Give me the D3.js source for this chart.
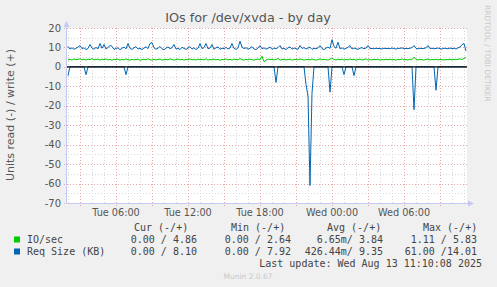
<!DOCTYPE html>
<html>
<head>
<meta charset="utf-8">
<script src="https://cdn.jsdelivr.net/npm/d3@7"></script>
<style>
  body { margin: 0; background: #f0f0f0; }
  svg { display: block; }
</style>
</head>
<body>
<svg id="chart"></svg>
<script>
// 10 minute samples, Tue Aug 12 01:55 UTC -> Wed Aug 13 11:15 UTC
const startTime = Date.UTC(2025, 7, 12, 1, 55)
const stepMin = 10

// Req Size (KB), write (+)
const reqWrite = [
  10.5, 9.2, 9.8, 9.0, 9.6, 10.2, 11.0, 9.4, 9.8, 8.9, 9.5, 11.5, 9.7, 9.1, 10.0, 9.3, 12.0, 9.6, 11.5, 9.2,
  10.0, 11.0, 10.6, 9.0, 9.5, 9.8, 8.8, 9.6, 10.2, 9.3, 12.0, 9.5, 9.0, 9.8, 10.4, 9.2, 9.6, 8.9, 9.7, 10.3,
  9.4, 12.0, 12.5, 9.8, 9.1, 9.6, 10.5, 9.3, 8.8, 9.7, 10.2, 9.4, 9.9, 11.5, 9.2, 9.6, 8.9, 10.1, 9.5, 9.0,
  9.7, 10.4, 9.2, 9.8, 8.9, 9.6, 12.0, 9.4, 9.9, 12.0, 9.3, 9.7, 11.5, 9.1, 9.8, 10.3, 9.0, 9.6, 9.4, 10.0,
  9.2, 9.7, 12.0, 9.5, 9.0, 9.8, 13.2, 10.2, 9.4, 9.9, 9.1, 9.6, 10.4, 9.2, 8.9, 9.7, 11.0, 9.3, 9.8, 9.1,
  9.6, 10.2, 9.0, 9.7, 9.4, 9.9, 11.0, 9.2, 9.6, 8.9, 9.8, 10.3, 9.1, 9.7, 9.4, 9.0, 11.0, 9.5, 9.9, 9.2,
  9.7, 10.1, 9.0, 9.6, 9.3, 9.8, 11.0, 9.4, 8.9, 9.7, 10.2, 9.5, 14.0, 10.5, 9.6, 12.7, 9.3, 9.8, 9.1, 9.6,
  10.0, 11.0, 9.2, 9.7, 9.4, 9.0, 9.6, 9.9, 9.3, 9.7, 11.0, 9.4, 9.5, 9.3, 9.6, 9.4, 9.5, 9.2, 9.6, 9.4,
  9.5, 9.3, 9.7, 9.4, 9.2, 9.6, 9.5, 9.8, 9.3, 9.5, 9.4, 9.6, 9.9, 11.0, 9.5, 9.3, 9.6, 9.4, 9.5, 9.8,
  11.0, 9.4, 9.6, 9.3, 9.5, 9.7, 9.4, 9.2, 9.6, 9.5, 9.3, 9.7, 9.4, 9.6, 9.2, 9.8, 10.2, 11.5, 12.0, 8.1
]

// Req Size (KB), read (-), drawn below zero
const reqRead = [
  4.5, 0, 0, 0, 0, 0, 0, 0, 0, 4, 0, 0, 0, 0, 0, 0, 0, 0, 0, 0,
  0, 0, 0, 0, 0, 0, 0, 0, 0, 4, 0, 0, 0, 0, 0, 0, 0, 0, 0, 0,
  0, 0, 0, 0, 0, 0, 0, 0, 0, 0, 0, 0, 0, 0, 0, 0, 0, 0, 0, 0,
  0, 0, 0, 0, 0, 0, 0, 0, 0, 0, 0, 0, 0, 0, 0, 0, 0, 0, 0, 0,
  0, 0, 0, 0, 0, 0, 0, 0, 0, 0, 0, 0, 0, 0, 0, 0, 0, 0, 0, 0,
  0, 0, 0, 0, 8, 0, 0, 0, 0, 0, 0, 0, 0, 0, 0, 0, 0, 0, 0, 9,
  15, 61, 13.5, 0, 0, 0, 0, 0, 0, 0, 0, 13, 0, 0, 0, 0, 0, 0, 4, 0,
  0, 0, 0, 4.5, 0, 0, 0, 0, 0, 0, 0, 0, 0, 0, 0, 0, 0, 0, 0, 0,
  0, 0, 0, 0, 0, 0, 0, 0, 0, 0, 0, 0, 0, 22, 0, 0, 0, 0, 0, 0,
  0, 0, 0, 0, 12, 0, 0, 0, 0, 0, 0, 0, 0, 0, 0, 0, 0, 0, 0, 0
]

// IO/sec, write (+)
const ioWrite = [
  3.6, 3.9, 3.5, 4.1, 3.7, 3.8, 4.2, 3.6, 3.9, 3.5, 4.0, 3.7, 4.3, 3.6, 3.8, 4.0, 3.5, 3.9, 3.7, 4.1,
  3.6, 3.8, 3.4, 3.9, 3.7, 4.0, 3.5, 3.8, 3.6, 4.1, 3.7, 3.5, 3.9, 3.6, 3.8, 4.0, 3.4, 3.7, 3.9, 3.6,
  4.2, 3.7, 3.5, 3.9, 3.6, 3.8, 4.0, 3.5, 3.7, 3.9, 3.6, 4.1, 3.8, 3.5, 3.7, 4.0, 3.6, 3.9, 3.5, 3.8,
  3.7, 4.1, 3.6, 3.8, 3.5, 4.0, 3.7, 3.9, 3.6, 4.2, 3.5, 3.8, 3.7, 4.0, 3.6, 3.9, 3.4, 3.8, 3.7, 4.1,
  3.6, 3.9, 3.5, 4.0, 3.8, 3.6, 4.3, 3.7, 3.5, 3.9, 3.6, 4.0, 3.7, 3.5, 3.8, 4.1, 3.6, 5.5, 2.7, 3.5,
  4.0, 3.7, 3.9, 3.6, 3.8, 4.4, 3.5, 3.7, 3.9, 3.6, 3.8, 4.0, 3.5, 3.7, 3.9, 3.6, 4.1, 3.8, 3.5, 3.7,
  3.9, 3.6, 4.0, 3.7, 3.5, 3.8, 4.1, 3.6, 3.9, 3.7, 3.5, 4.0, 4.6, 3.8, 3.6, 3.9, 3.7, 4.0, 3.5, 3.8,
  3.6, 4.1, 3.7, 3.9, 3.5, 3.8, 4.0, 3.6, 3.7, 4.2, 3.5, 3.8, 3.6, 3.9, 3.7, 4.0, 3.5, 3.8, 3.6, 3.9,
  3.7, 4.0, 3.6, 3.8, 3.5, 3.9, 3.7, 4.1, 3.6, 3.8, 3.5, 4.0, 3.7, 5.0, 3.8, 3.6, 3.9, 3.7, 3.5, 3.8,
  4.0, 3.6, 3.8, 3.7, 3.9, 3.6, 3.8, 3.7, 3.6, 3.8, 3.7, 3.9, 3.6, 3.8, 3.7, 3.9, 4.2, 3.8, 4.3, 4.9
]

const yTicks = [20, 10, 0, -10, -20, -30, -40, -50, -60, -70]

const legendHeaders = ['Cur (-/+)', 'Min (-/+)', 'Avg (-/+)', 'Max (-/+)']
const legendRows = [
  {name: 'IO/sec', color: '#00cc00', values: ['0.00 / 4.86', '0.00 / 2.64', '6.65m/ 3.84', '1.11 / 5.83']},
  {name: 'Req Size (KB)', color: '#0066b3', values: ['0.00 / 8.10', '0.00 / 7.92', '426.44m/ 9.35', '61.00 /14.01']}
]
const lastUpdate = 'Last update: Wed Aug 13 11:10:08 2025'

const width = 497
const height = 287
const margin = {top: 28, right: 30, bottom: 84, left: 67}

const svg = d3.select('#chart')
    .attr('width', width)
    .attr('height', height)
    .style('background', '#f0f0f0')

const x = d3.scaleUtc()
    .domain([new Date(startTime), new Date(startTime + 200 * stepMin * 60000)])
    .range([margin.left, width - margin.right])

const y = d3.scaleLinear()
    .domain([-70, 20])
    .range([height - margin.bottom, margin.top])

const tAt = i => new Date(startTime + (i + 0.5) * stepMin * 60000)

// plot background
svg.append('rect')
    .attr('x', x.range()[0]).attr('y', y(20))
    .attr('width', x.range()[1] - x.range()[0])
    .attr('height', y(-70) - y(20))
    .attr('fill', '#fff')

const grid = svg.append('g').attr('shape-rendering', 'crispEdges')

// minor grid
grid.selectAll('.vmin')
    .data(x.ticks(d3.utcHour.every(1)).filter(d => d.getUTCHours() % 3 !== 0))
    .join('line')
    .attr('x1', d => Math.round(x(d)) + 0.5).attr('x2', d => Math.round(x(d)) + 0.5)
    .attr('y1', y(20)).attr('y2', y(-70) + 2)
    .attr('stroke', '#d8d8d8').attr('stroke-dasharray', '1,2')

grid.selectAll('.hmin')
    .data(d3.range(-65, 20, 10))
    .join('line')
    .attr('x1', x.range()[0] - 2).attr('x2', x.range()[1])
    .attr('y1', d => Math.round(y(d)) + 0.5).attr('y2', d => Math.round(y(d)) + 0.5)
    .attr('stroke', '#d8d8d8').attr('stroke-dasharray', '1,2')

// major grid
grid.selectAll('.vmaj')
    .data(x.ticks(d3.utcHour.every(3)))
    .join('line')
    .attr('x1', d => Math.round(x(d)) + 0.5).attr('x2', d => Math.round(x(d)) + 0.5)
    .attr('y1', y(20)).attr('y2', y(-70) + 3)
    .attr('stroke', '#e8a8a8').attr('stroke-dasharray', '1,2')

grid.selectAll('.hmaj')
    .data(yTicks)
    .join('line')
    .attr('x1', x.range()[0] - 3).attr('x2', x.range()[1])
    .attr('y1', d => Math.round(y(d)) + 0.5).attr('y2', d => Math.round(y(d)) + 0.5)
    .attr('stroke', '#e8a8a8').attr('stroke-dasharray', '1,2')

// axis lines + arrows
const axisColor = '#c4c8f2'
svg.append('line')
    .attr('x1', x.range()[0] - 0.5).attr('x2', x.range()[1] + 3)
    .attr('y1', y(-70) + 0.5).attr('y2', y(-70) + 0.5)
    .attr('stroke', axisColor)
svg.append('line')
    .attr('x1', x.range()[0] - 0.5).attr('x2', x.range()[0] - 0.5)
    .attr('y1', y(-70) + 0.5).attr('y2', y(20) - 4)
    .attr('stroke', axisColor)
svg.append('path')
    .attr('d', `M${x.range()[1] + 1},${y(-70) - 2.5}L${x.range()[1] + 7},${y(-70) + 0.5}L${x.range()[1] + 1},${y(-70) + 3.5}Z`)
    .attr('fill', axisColor)
svg.append('path')
    .attr('d', `M${x.range()[0] - 3.5},${y(20) - 1}L${x.range()[0] - 0.5},${y(20) - 7}L${x.range()[0] + 2.5},${y(20) - 1}Z`)
    .attr('fill', axisColor)

// tick labels
svg.append('g')
    .selectAll('text')
    .data(x.ticks(d3.utcHour.every(6)))
    .join('text')
    .attr('x', d => x(d))
    .attr('y', 216)
    .attr('text-anchor', 'middle')
    .attr('font-family', 'DejaVu Sans')
    .attr('font-size', 9.7)
    .attr('fill', '#555')
    .text(d => d3.utcFormat('%a %H:%M')(d))

svg.append('g')
    .selectAll('text')
    .data(yTicks)
    .join('text')
    .attr('x', 61)
    .attr('y', d => y(d))
    .attr('dy', '0.36em')
    .attr('text-anchor', 'end')
    .attr('font-family', 'DejaVu Sans')
    .attr('font-size', 10)
    .attr('fill', '#555')
    .text(d => String(d))

// series
const line = d3.line()
    .x((d, i) => x(tAt(i)))
    .y(d => y(d))

svg.append('path')
    .datum(reqRead.map(v => -v))
    .attr('fill', 'none')
    .attr('stroke', '#0066b3')
    .attr('stroke-width', 1)
    .attr('d', line)

svg.append('line')
    .attr('x1', x.range()[0]).attr('x2', x.range()[1])
    .attr('y1', y(0)).attr('y2', y(0))
    .attr('stroke', '#000')
    .attr('stroke-width', 1.2)

svg.append('path')
    .datum(ioWrite)
    .attr('fill', 'none')
    .attr('stroke', '#00cc00')
    .attr('stroke-width', 1)
    .attr('d', line)

svg.append('path')
    .datum(reqWrite)
    .attr('fill', 'none')
    .attr('stroke', '#0066b3')
    .attr('stroke-width', 1)
    .attr('d', line)

// title + labels
svg.append('text')
    .attr('x', 248).attr('y', 22)
    .attr('text-anchor', 'middle')
    .attr('font-family', 'DejaVu Sans')
    .attr('font-size', 12.8)
    .attr('fill', '#555')
    .text('IOs for /dev/xvda - by day')

svg.append('text')
    .attr('transform', 'translate(14,115) rotate(-90)')
    .attr('text-anchor', 'middle')
    .attr('font-family', 'DejaVu Sans')
    .attr('font-size', 11)
    .attr('fill', '#555')
    .text('Units read (-) / write (+)')

svg.append('text')
    .attr('transform', 'translate(485,5) rotate(90)')
    .attr('font-family', 'DejaVu Sans')
    .attr('font-size', 7.5)
    .attr('fill', '#c8c8c8')
    .text('RRDTOOL / TOBI OETIKER')

// legend
const mono = 'DejaVu Sans Mono'
const headX = [134, 231, 327, 423]
const valEnd = [197, 291, 383, 477]

svg.append('g')
    .selectAll('text')
    .data(legendHeaders)
    .join('text')
    .attr('x', (d, i) => headX[i]).attr('y', 231)
    .attr('font-family', mono).attr('font-size', 10)
    .attr('fill', '#444')
    .attr('xml:space', 'preserve')
    .text(d => d)

legendRows.forEach((row, r) => {
    const by = 243 + r * 12
    svg.append('rect')
        .attr('x', 14).attr('y', by - 6.5)
        .attr('width', 6).attr('height', 6)
        .attr('fill', row.color)
    svg.append('text')
        .attr('x', 27).attr('y', by)
        .attr('font-family', mono).attr('font-size', 10)
        .attr('fill', '#444')
        .text(row.name)
    svg.append('g')
        .selectAll('text')
        .data(row.values)
        .join('text')
        .attr('x', (d, i) => valEnd[i]).attr('y', by)
        .attr('text-anchor', 'end')
        .attr('font-family', mono).attr('font-size', 10)
        .attr('fill', '#444')
        .attr('xml:space', 'preserve')
        .text(d => d)
})

svg.append('text')
    .attr('x', 482).attr('y', 267)
    .attr('text-anchor', 'end')
    .attr('font-family', mono).attr('font-size', 10)
    .attr('fill', '#444')
    .text(lastUpdate)

svg.append('text')
    .attr('x', 248).attr('y', 279)
    .attr('text-anchor', 'middle')
    .attr('font-family', 'DejaVu Sans')
    .attr('font-size', 7.5)
    .attr('fill', '#c8c8c8')
    .text('Munin 2.0.67')
</script>
</body>
</html>
